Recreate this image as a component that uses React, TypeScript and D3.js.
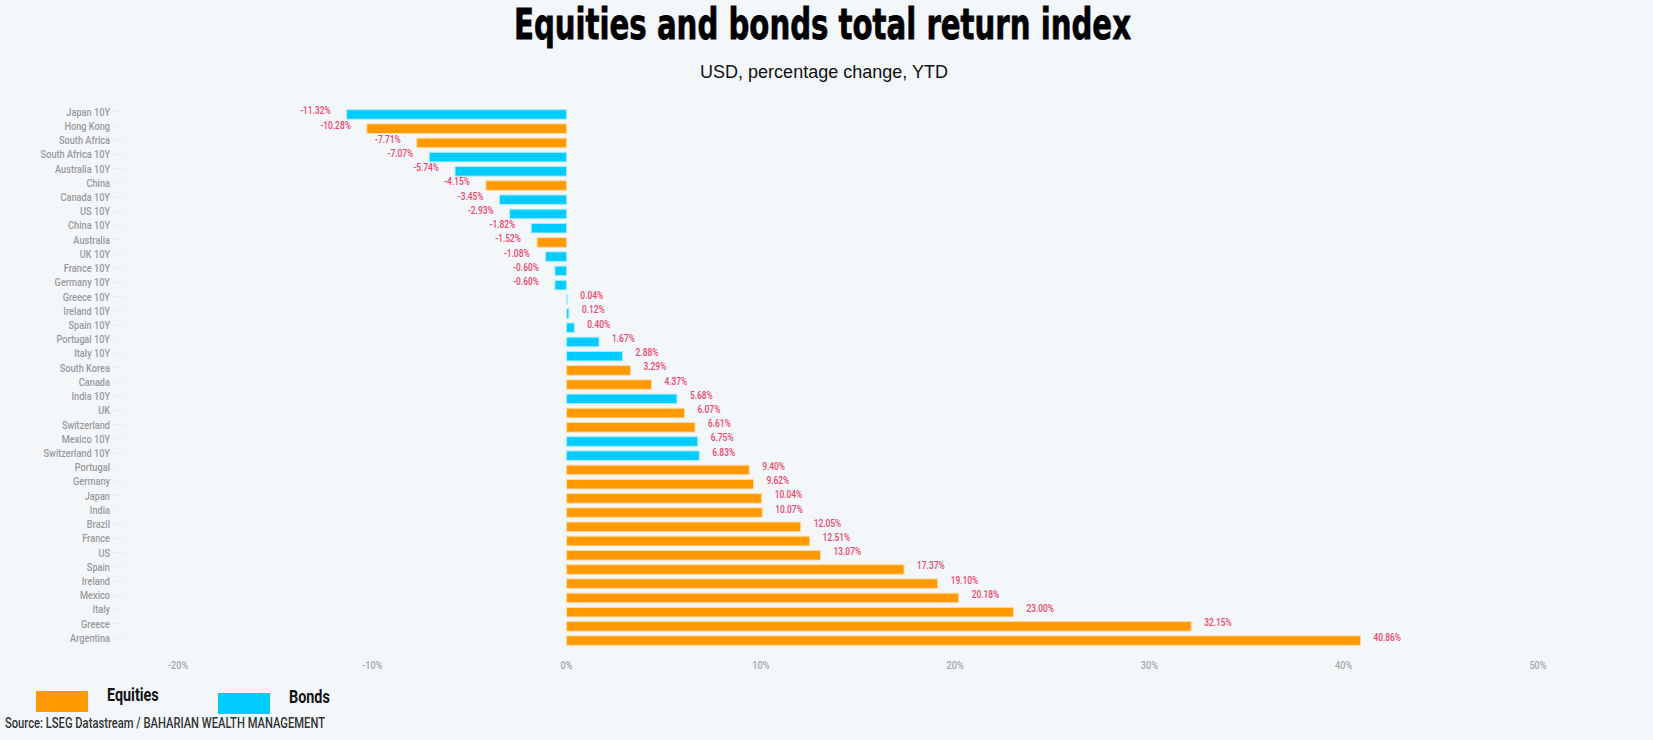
import React, { useRef, useEffect } from 'react';
import * as d3 from 'd3';

// categories, top to bottom
const categories = [
  'Japan 10Y', 'Hong Kong', 'South Africa', 'South Africa 10Y', 'Australia 10Y', 'China',
  'Canada 10Y', 'US 10Y', 'China 10Y', 'Australia', 'UK 10Y', 'France 10Y', 'Germany 10Y',
  'Greece 10Y', 'Ireland 10Y', 'Spain 10Y', 'Portugal 10Y', 'Italy 10Y', 'South Korea',
  'Canada', 'India 10Y', 'UK', 'Switzerland', 'Mexico 10Y', 'Switzerland 10Y', 'Portugal',
  'Germany', 'Japan', 'India', 'Brazil', 'France', 'US', 'Spain', 'Ireland', 'Mexico',
  'Italy', 'Greece', 'Argentina',
];

const values = [
  -11.32, -10.28, -7.71, -7.07, -5.74, -4.15, -3.45, -2.93, -1.82, -1.52, -1.08, -0.6, -0.6,
  0.04, 0.12, 0.4, 1.67, 2.88, 3.29, 4.37, 5.68, 6.07, 6.61, 6.75, 6.83, 9.4, 9.62, 10.04,
  10.07, 12.05, 12.51, 13.07, 17.37, 19.1, 20.18, 23.0, 32.15, 40.86,
];

// E = equities, B = bonds
const assetType = [
  'B', 'E', 'E', 'B', 'B', 'E', 'B', 'B', 'B', 'E', 'B', 'B', 'B',
  'B', 'B', 'B', 'B', 'B', 'E', 'E', 'B', 'E', 'E', 'B', 'B', 'E', 'E', 'E',
  'E', 'E', 'E', 'E', 'E', 'E', 'E', 'E', 'E', 'E',
];

const xTicks = [-20, -10, 0, 10, 20, 30, 40, 50];

const legendItems = ['Equities', 'Bonds'];

const W = 1653;
const H = 740;
const COND = "Roboto, 'DejaVu Sans', sans-serif";
const SQ = 0.8; // horizontal squeeze to fake a condensed face

const App = () => {
  const svgRef = useRef<SVGSVGElement | null>(null);

  useEffect(() => {
    const svg = d3.select(svgRef.current);
    svg.selectAll('*').remove();

    const data = categories.map((c, i) => ({ name: c, value: values[i], type: assetType[i] }));

    const color = d3.scaleOrdinal<string, string>()
      .domain(['E', 'B'])
      .range(['#FF9900', '#00CCFF']);
    const stroke = d3.scaleOrdinal<string, string>()
      .domain(['E', 'B'])
      .range(['#FFD9A0', '#A8ECFF']);

    const x = d3.scaleLinear().domain([-20, 50]).range([178, 1538]);
    const y = d3.scaleBand()
      .domain(categories)
      .range([105, 105 + 14.22 * 38.33])
      .padding(0.33);

    const squeeze = (px: number, py: number) => `translate(${px},${py}) scale(${SQ},1)`;

    svg.append('rect')
      .attr('width', W)
      .attr('height', H)
      .attr('fill', '#F3F7FA');

    // title
    svg.append('text')
      .attr('x', 514)
      .attr('y', 39)
      .attr('textLength', 617)
      .attr('lengthAdjust', 'spacingAndGlyphs')
      .style('font-family', "'DejaVu Sans', sans-serif")
      .style('font-weight', 'bold')
      .style('font-size', '42px')
      .attr('fill', '#000')
      .attr('stroke', '#000')
      .attr('stroke-width', 0.8)
      .text('Equities and bonds total return index');

    svg.append('text')
      .attr('x', 824)
      .attr('y', 78)
      .attr('text-anchor', 'middle')
      .style('font-family', "'Liberation Sans', Arial, sans-serif")
      .style('font-size', '18px')
      .attr('fill', '#111')
      .text('USD, percentage change, YTD');

    // faint category ticks
    svg.append('g')
      .selectAll('line')
      .data(data)
      .enter()
      .append('line')
      .attr('x1', 114)
      .attr('x2', 124)
      .attr('y1', d => y(d.name)! + 2)
      .attr('y2', d => y(d.name)! + 2)
      .attr('stroke', '#E8ECF0')
      .attr('stroke-width', 1);

    // bars
    svg.append('g')
      .selectAll('rect')
      .data(data)
      .enter()
      .append('rect')
      .attr('x', d => x(Math.min(0, d.value)))
      .attr('y', d => y(d.name)!)
      .attr('width', d => Math.max(0.6, Math.abs(x(d.value) - x(0))))
      .attr('height', y.bandwidth())
      .attr('fill', d => color(d.type))
      .attr('stroke', d => stroke(d.type))
      .attr('stroke-width', 1);

    // category labels
    svg.append('g')
      .selectAll('text')
      .data(data)
      .enter()
      .append('text')
      .attr('transform', d => squeeze(110, y(d.name)! + 2))
      .attr('dy', '0.35em')
      .attr('text-anchor', 'end')
      .style('font-family', COND)
      .style('font-weight', 500)
      .style('font-size', '11.5px')
      .attr('fill', '#9A9A9A')
      .text(d => d.name);

    // value labels
    svg.append('g')
      .selectAll('text')
      .data(data)
      .enter()
      .append('text')
      .attr('transform', d => squeeze(d.value < 0 ? x(d.value) - 16 : x(d.value) + 13, y(d.name)! + 1))
      .attr('dy', '0.35em')
      .attr('text-anchor', d => (d.value < 0 ? 'end' : 'start'))
      .style('font-family', COND)
      .style('font-weight', 500)
      .style('font-size', '10.5px')
      .attr('fill', '#F0436B')
      .text(d => `${d.value.toFixed(2)}%`);

    // x axis labels
    svg.append('g')
      .selectAll('text')
      .data(xTicks)
      .enter()
      .append('text')
      .attr('transform', d => squeeze(x(d), 665))
      .attr('dy', '0.35em')
      .attr('text-anchor', 'middle')
      .style('font-family', COND)
      .style('font-weight', 500)
      .style('font-size', '11.5px')
      .attr('fill', '#A6A6A6')
      .text(d => `${d}%`);

    // legend
    const legend = svg.append('g');
    const legendX = [36, 218];
    const legendY = [691, 693];
    legend.selectAll('rect')
      .data(legendItems)
      .enter()
      .append('rect')
      .attr('x', (d, i) => legendX[i])
      .attr('y', (d, i) => legendY[i])
      .attr('width', 52)
      .attr('height', 21)
      .attr('fill', (d, i) => color(i === 0 ? 'E' : 'B'));

    legend.selectAll('text')
      .data(legendItems)
      .enter()
      .append('text')
      .attr('transform', (d, i) => squeeze(legendX[i] + 71, legendY[i] + 4))
      .attr('dy', '0.35em')
      .style('font-family', COND)
      .style('font-weight', 'bold')
      .style('font-size', '18px')
      .attr('fill', '#111')
      .text(d => d);

    svg.append('text')
      .attr('x', 5)
      .attr('y', 723)
      .attr('dy', '0.35em')
      .attr('textLength', 320)
      .attr('lengthAdjust', 'spacingAndGlyphs')
      .style('font-family', COND)
      .style('font-weight', 500)
      .style('font-size', '15px')
      .attr('fill', '#333')
      .text('Source: LSEG Datastream / BAHARIAN WEALTH MANAGEMENT');
  }, []);

  return (
    <svg
      ref={svgRef}
      width={W}
      height={H}
      style={{ position: 'absolute', left: 0, top: 0, display: 'block' }}
    />
  );
};

export default App;
